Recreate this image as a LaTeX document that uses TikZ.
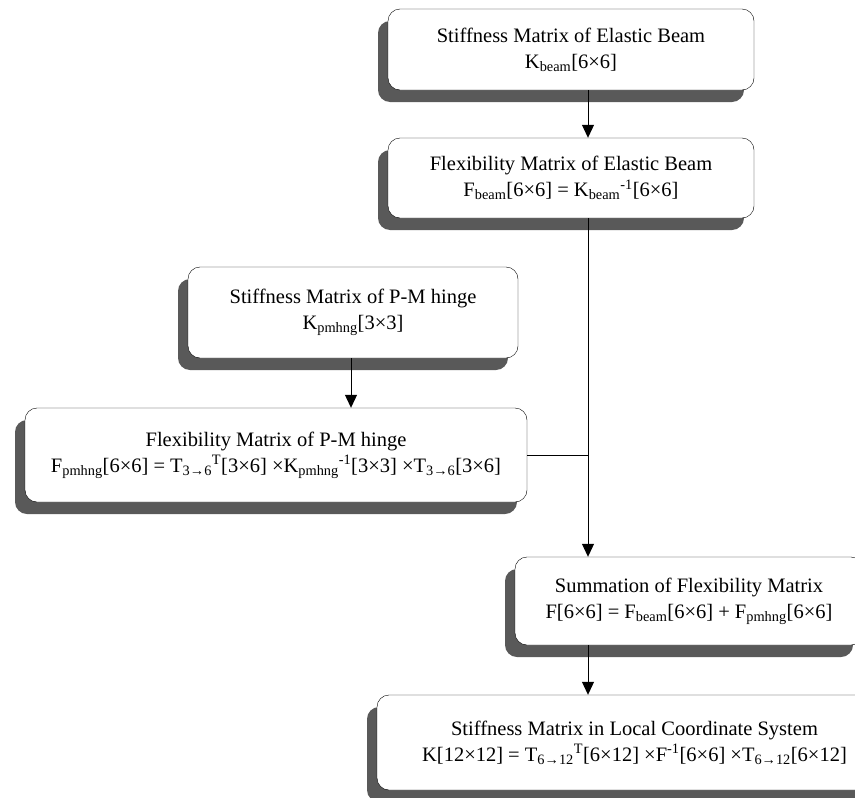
\documentclass[tikz,border=0pt]{standalone}
\usepackage{fontspec}
\setmainfont{Liberation Serif}
\usetikzlibrary{arrows.meta,shadows}
\begin{document}
\begin{tikzpicture}[x=1pt,y=-1pt,
    box/.style={draw, rounded corners=12pt, fill=white, align=center, inner sep=0pt,
        font=\fontsize{20.5}{26}\selectfont,
        drop shadow={shadow xshift=-10pt, shadow yshift=-12pt, fill=black!65, opacity=1}},
    flow/.style={-{Triangle[width=12pt,length=13pt]}, line width=1pt}]
    \path[use as bounding box, clip] (0,0) rectangle (855,798);
    \node[box, minimum width=366pt, minimum height=81pt] (stiffbeam) at (571,49.5)
        {Stiffness Matrix of Elastic Beam\\K\textsubscript{beam}[6×6]};
    \node[box, minimum width=366pt, minimum height=80pt] (flexbeam) at (571,178)
        {Flexibility Matrix of Elastic Beam\\F\textsubscript{beam}[6×6] = K\textsubscript{beam}\textsuperscript{-1}[6×6]};
    \node[box, minimum width=330pt, minimum height=91pt] (stiffhinge) at (353,312.5)
        {Stiffness Matrix of P-M hinge\\K\textsubscript{pmhng}[3×3]};
    \node[box, minimum width=502pt, minimum height=94pt] (flexhinge) at (276,455)
        {Flexibility Matrix of P-M hinge\\F\textsubscript{pmhng}[6×6] = T\textsubscript{3→6}\textsuperscript{T}[3×6] ×K\textsubscript{pmhng}\textsuperscript{-1}[3×3] ×T\textsubscript{3→6}[3×6]};
    \node[box, minimum width=348pt, minimum height=88pt] (sumflex) at (689,601)
        {Summation of Flexibility Matrix\\F[6×6] = F\textsubscript{beam}[6×6] + F\textsubscript{pmhng}[6×6]};
    \node[box, minimum width=515pt, minimum height=95pt] (stifflocal) at (634.5,742.5)
        {Stiffness Matrix in Local Coordinate System\\K[12×12] = T\textsubscript{6→12}\textsuperscript{T}[6×12] ×F\textsuperscript{-1}[6×6] ×T\textsubscript{6→12}[6×12]};
    % vertical axes of the connectors
    \coordinate (spine) at (588,0);
    \coordinate (hingeaxis) at (351,0);
    \draw[flow] (stiffbeam.south -| spine) -- (flexbeam.north -| spine);
    \draw[flow] (flexbeam.south -| spine) -- (sumflex.north -| spine);
    \draw[line width=1pt] (flexhinge.east) -- (flexhinge.east -| spine);
    \draw[flow] (stiffhinge.south -| hingeaxis) -- (flexhinge.north -| hingeaxis);
    \draw[flow] (sumflex.south -| spine) -- (stifflocal.north -| spine);
\end{tikzpicture}
\end{document}
